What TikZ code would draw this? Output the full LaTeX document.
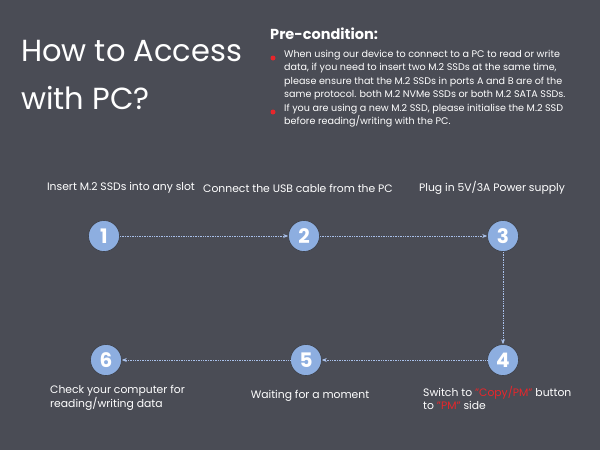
\documentclass[tikz,border=0pt]{standalone}
\usepackage{fontspec}
\setmainfont{Poppins}
\usetikzlibrary{arrows.meta}
\definecolor{bg}{HTML}{4A4C55}
\definecolor{cblue}{HTML}{8DAEE0}
\definecolor{lblue}{HTML}{A9C0EA}
\definecolor{rd}{HTML}{E8262B}
\begin{document}
\begin{tikzpicture}[x=1pt,y=-1pt,
  stepc/.style={circle,fill=cblue,draw=bg!80!black,line width=0.6pt,minimum size=31pt,inner sep=0pt,text=white,font=\fontsize{20}{20}\selectfont\bfseries},
  conn/.style={draw=lblue,densely dotted,line width=0.7pt,-{Stealth[length=5pt,width=4pt]}},
  lab/.style={text=white,font=\fontsize{10.8}{13.5}\selectfont,inner sep=0pt},
  plab/.style={text=white,inner sep=0pt,anchor=north west,align=left,font=\fontsize{9.6}{13.3}\selectfont},
  bul/.style={circle,fill=rd,minimum size=5pt,inner sep=0pt}]
\fill[bg] (0,0) rectangle (600,450);
\useasboundingbox (0,0) rectangle (600,450);
\node[text=white,anchor=north west,align=left,inner sep=0pt,font=\fontsize{30.5}{48}\selectfont] (title) at (21,40) {How to Access\\with PC?};
\node[text=white,anchor=west,inner sep=0pt,font=\fontsize{14.5}{16}\selectfont\bfseries] (pre) at (270,34) {Pre-condition:};
\node[plab] (t1) at (284,50) {When using our device to connect to a PC to read or write\\data, if you need to insert two M.2 SSDs at the same time,\\please ensure that the M.2 SSDs in ports A and B are of the\\same protocol. both M.2 NVMe SSDs or both M.2 SATA SSDs.};
\node[plab] (t2) at (284,104) {If you are using a new M.2 SSD, please initialise the M.2 SSD\\before reading/writing with the PC.};
\node[bul] (b1) at (273,58) {};
\node[bul] (b2) at (273,112) {};
\node[stepc] (s1) at (104,236) {1};
\node[stepc] (s2) at (304,236) {2};
\node[stepc] (s3) at (503,236) {3};
\node[stepc] (s4) at (503,360) {4};
\node[stepc] (s5) at (306,360) {5};
\node[stepc] (s6) at (106,360) {6};
\draw[conn] (s1) -- (s2);
\draw[conn] (s2) -- (s3);
\draw[conn] (s3) -- (s4);
\draw[conn] (s4) -- (s5);
\draw[conn] (s5) -- (s6);
\node[lab] (l1) at (121,188) {Insert M.2 SSDs into any slot};
\node[lab] (l2) at (298,188) {Connect the USB cable from the PC};
\node[lab] (l3) at (492,188) {Plug in 5V/3A Power supply};
\node[lab,anchor=west,align=left] (l6) at (50,398) {Check your computer for\\reading/writing data};
\node[lab] (l5) at (310,396) {Waiting for a moment};
\node[lab,anchor=west,align=left] (l4) at (423,398) {Switch to \textcolor{rd}{"Copy/PM"} button\\to \textcolor{rd}{"PM"} side};
\end{tikzpicture}
\end{document}
